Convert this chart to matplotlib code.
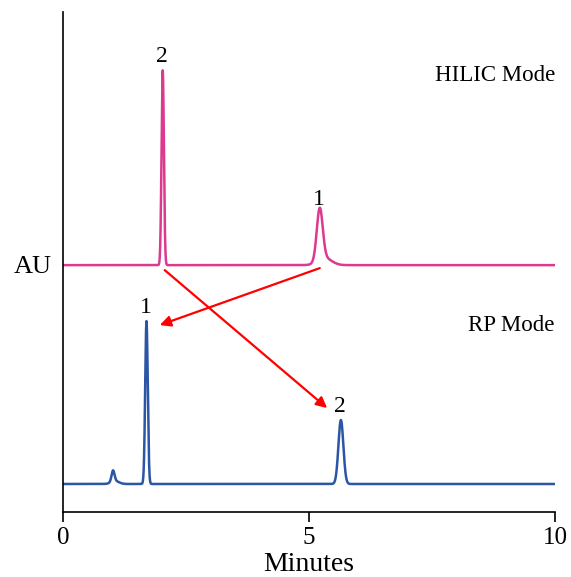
import matplotlib.pyplot as plt
import numpy as np

# peak tables: retention time [min], height, width (sigma) [min]
hilic_baseline = 247.0
hilic_rt = [2.03, 5.22, 5.32]
hilic_height = [195.0, 52.0, 7.0]
hilic_sigma = [0.024, 0.06, 0.14]
hilic_labels = ["2", "1", ""]

rp_baseline = 28.0
rp_rt = [1.02, 1.06, 1.70, 5.65]
rp_height = [11.0, 3.0, 163.0, 64.0]
rp_sigma = [0.03, 0.08, 0.026, 0.05]
rp_labels = ["", "", "1", "2"]

# arrows: (start time, start AU) -> (end time, end AU)
arrow_start = [(5.22, 244.0), (2.07, 242.0)]
arrow_end = [(1.97, 187.0), (5.37, 104.0)]

ts = np.linspace(0, 10, 4000)


def trace(base, rts, hs, sig):
    y = np.full_like(ts, base)
    for rt, h, s in zip(rts, hs, sig):
        y += h * np.exp(-0.5 * ((ts - rt) / s) ** 2)
    return y


plt.rcParams["font.family"] = ["Liberation Serif", "DejaVu Serif"]

fig = plt.figure(figsize=(5.71, 5.77), dpi=100)
ax = fig.add_axes([0.110, 0.1127, 0.862, 0.866])

c_hilic = "#dc3a8e"
c_rp = "#2b55a5"
ax.plot(ts, trace(hilic_baseline, hilic_rt, hilic_height, hilic_sigma), color=c_hilic, lw=1.8)
ax.plot(ts, trace(rp_baseline, rp_rt, rp_height, rp_sigma), color=c_rp, lw=1.8)

# peak labels
for rt, h, lab in zip(hilic_rt, hilic_height, hilic_labels):
    if lab:
        ax.text(rt - 0.02, hilic_baseline + h + 3, lab, ha="center", va="bottom", fontsize=17)
for rt, h, lab in zip(rp_rt, rp_height, rp_labels):
    if lab:
        ax.text(rt - 0.02, rp_baseline + h + 3, lab, ha="center", va="bottom", fontsize=17)

ax.text(8.78, 437, "HILIC Mode", ha="center", va="center", fontsize=16.5)
ax.text(9.1, 187, "RP Mode", ha="center", va="center", fontsize=16.5)

for (x0, y0), (x1, y1) in zip(arrow_start, arrow_end):
    ax.annotate("", xy=(x1, y1), xytext=(x0, y0),
                arrowprops=dict(arrowstyle="-|>", color="red", lw=1.6,
                                mutation_scale=16, shrinkA=0, shrinkB=0))

ax.set_xlim(0, 10)
ax.set_ylim(0, 500)
ax.set_xticks([0, 5, 10])
ax.set_yticks([])
ax.tick_params(axis="x", labelsize=18, direction="out", length=7, width=1.2, pad=4)
ax.spines["top"].set_visible(False)
ax.spines["right"].set_visible(False)
ax.spines["left"].set_linewidth(1.2)
ax.spines["bottom"].set_linewidth(1.2)
ax.set_xlabel("Minutes", fontsize=20, labelpad=2)
ax.set_ylabel("AU", fontsize=19, rotation=0, va="center")
ax.yaxis.set_label_coords(-0.062, 0.49)

fig.savefig("out.png", dpi=100)
